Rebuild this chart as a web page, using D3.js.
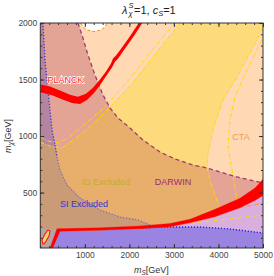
<!DOCTYPE html>
<html><head><meta charset="utf-8">
<script src="https://cdn.jsdelivr.net/npm/d3@7"></script>
<style>body{margin:0;background:#fff;} text{font-family:"Liberation Sans",Arial,sans-serif;}</style>
</head><body><svg id="c" width="274" height="276"></svg>
<script>
// ---- data (m_S [GeV], m_chi [GeV]) ----
const xTicks = [1000, 2000, 3000, 4000, 5000];
const yTicks = [500, 1000, 1500, 2000];
const xMinor = d3.range(0, 5001, 200);
const yMinor = d3.range(100, 2001, 100);

// CTA: region not reached (white bubble)
const ctaHole = [[910,2000],[960,1965],[1050,1938],[1205,1925],[1365,1938],[1450,1965],[1500,2000]];
// ID excluded region boundaries
const idLeft = [[0,947],[220,912],[490,894],[712,956],[1004,1045],[1273,1142],[1565,1257],[2088,1478],[2508,1690],[2867,1867],[3136,2000]];
const idRight = [[5000,1956],[4708,1735],[4416,1522],[4101,1319],[3877,1054],[3765,850],[3742,726],[3810,611],[3922,479],[4012,390],[4079,346]];
const idOuterLeft = [[0,992],[173,956],[397,938],[622,983],[891,1071],[1161,1160],[1452,1257],[1946,1478],[2373,1690],[2732,1867],[3024,2000]];
const idOuterRight = [[4977,1850],[4640,1584],[4371,1345],[4259,1142],[4214,903],[4304,700],[4371,549],[4416,435]];
// DARWIN reach boundary
const darwinEdge = [[846,2000],[936,1894],[1071,1717],[1228,1540],[1408,1363],[1565,1248],[1744,1160],[2014,1071],[2306,965],[2688,859],[3024,797],[3428,744],[3742,718],[4416,638],[5000,585]];
// SI excluded boundaries
const siEdge = [[60,2000],[105,1673],[150,1496],[218,1230],[263,1054],[330,921],[375,815],[442,700],[599,567],[891,452],[1340,346],[1789,284],[2193,258],[2463,213]];
const siBottom = [[2238,187],[2688,196],[3585,196],[4259,178],[5000,143]];
const lilacRegion = [[2463,196],[2912,213],[3360,249],[3922,320],[4483,408],[4820,479],[5000,549],[5000,143],[4259,178],[3585,196],[2688,196]];
const blueRegion = [[397,160],[1340,165],[2238,178],[2688,196],[3585,196],[4259,178],[5000,143],[5000,10],[218,10]];
const grayCorner = [[0,187],[397,169],[218,10],[0,10]];
// other bound lines
const orangeLine = [[3585,302],[4259,346],[5000,408]];
const yellowLow = [[2463,196],[3360,231],[4259,266],[5000,302]];
// PLANCK relic density bands
const planckUpper = [[0,1455],[218,1438],[442,1402],[667,1366],[846,1348],[1026,1375],[1183,1428],[1340,1500],[1475,1570],[1587,1642],[1632,1686],[1699,1712],[1789,1758],[2014,1882],[2210,2000],[2290,2000],[2110,1890],[1890,1768],[1744,1683],[1677,1658],[1610,1607],[1475,1528],[1340,1450],[1205,1380],[1048,1318],[891,1284],[712,1292],[487,1326],[263,1360],[0,1388]];
const planckLower = [[218,10],[375,180],[1340,188],[2238,205],[2912,227],[3360,264],[3922,352],[4483,450],[4820,540],[5000,618],[5000,475],[4820,430],[4483,366],[3922,286],[3360,233],[2912,198],[2238,180],[1340,167],[442,158],[280,10]];
const planckLoop = [[60,45],[38,81],[105,134],[173,169],[218,160],[195,116],[128,72],[83,45]];

// ---- layout ----
const L = 40.3, R = 263, T = 23, B = 248;
const x = d3.scaleLinear([0, 5000], [L, R]);
const y = d3.scaleLinear([10, 2000], [B, T]);
const svg = d3.select("#c");
const defs = svg.append("defs");
const line = d3.line().x(d => x(d[0])).y(d => y(d[1]));
const poly = pts => line(pts) + "Z";

const idPoly = idLeft.concat([[5000,2000]], idRight, [[4079,10],[0,10]]);
const darwinPoly = [[0,2000]].concat(darwinEdge, [[5000,10],[0,10]]);
const siPoly = [[0,2000]].concat(siEdge, [[2463,10],[0,10]]);

defs.append("clipPath").attr("id","plot").append("rect").attr("x",L).attr("y",T).attr("width",R-L).attr("height",B-T);
defs.append("clipPath").attr("id","dclip").append("path").attr("d",poly(darwinPoly));
defs.append("clipPath").attr("id","sclip").append("path").attr("d",poly(siPoly));

const g = svg.append("g").attr("clip-path","url(#plot)");
g.append("rect").attr("x",L).attr("y",T).attr("width",R-L).attr("height",B-T).attr("fill","#ffd9b4");
g.append("path").attr("d",poly(ctaHole)).attr("fill","#ffffff");
g.append("path").attr("d",poly(idPoly)).attr("fill","#fdda7c");
g.append("path").attr("d",poly(darwinPoly)).attr("fill","#e3a495");
g.append("g").attr("clip-path","url(#dclip)").append("path").attr("d",poly(idPoly)).attr("fill","#e8af6c");
g.append("path").attr("d",poly(siPoly)).attr("fill","#b5849f");
g.append("g").attr("clip-path","url(#sclip)").append("path").attr("d",poly(idPoly)).attr("fill","#c99b77");
g.append("path").attr("d",poly(lilacRegion)).attr("fill","#d9b0dd");
g.append("path").attr("d",poly(blueRegion)).attr("fill","#9b83e1");
g.append("path").attr("d",poly(grayCorner)).attr("fill","#b6a3a3");

function stroke(pts, color, dash, w) {
  g.append("path").attr("d", line(pts)).attr("fill","none").attr("stroke",color)
   .attr("stroke-width", w || 1).attr("stroke-dasharray", dash);
}
const dashdot = "4,1.5,1,1.5";
stroke(ctaHole, "#f08a20", "3,2", 1);
stroke(idLeft, "#ffd800", dashdot, 1);
stroke(idOuterLeft, "#ffd800", dashdot, 1);
stroke(idRight, "#ffd800", dashdot, 1);
stroke(idOuterRight, "#ffd800", dashdot, 1);
stroke(yellowLow, "#ffd800", dashdot, 1);
stroke(orangeLine, "#ff9020", dashdot, 1);
stroke(darwinEdge, "#9e3c6e", "4,3", 1.3);
stroke(siEdge.slice(0,7), "#3434e0", "1.2,1.8", 1.3);
stroke(siEdge.slice(6), "#8070a8", "1.2,1.8", 1.3);
stroke(siBottom, "#2020f0", "1.2,1.8", 1.4);

g.append("path").attr("d",poly(planckUpper)).attr("fill","#ff0000");
g.append("path").attr("d",poly(planckLower)).attr("fill","#ff0000").attr("stroke","#ff0000").attr("stroke-width",0.3);
g.append("path").attr("d",poly(planckLoop)).attr("fill","#f6d86c").attr("stroke","#ff1010").attr("stroke-width",1.1);

// labels
function lab(txt, cx, cy, color) {
  svg.append("text").attr("x",cx).attr("y",cy).attr("dy","0.35em").attr("text-anchor","middle")
    .attr("font-size",9).attr("fill",color).text(txt);
}
lab("CTA", 241, 137, "#f29a48");
lab("ID Excluded", 106, 182, "#c4ad2c");
lab("DARWIN", 173, 182, "#9c2a78");
lab("SI Excluded", 84, 204, "#3434d4");
svg.append("text").attr("x",65.5).attr("y",80).attr("dy","0.35em").attr("text-anchor","middle")
  .attr("font-size",9).attr("fill","#ff2020").attr("stroke","#ffffff").attr("stroke-width",1.5)
  .attr("paint-order","stroke").text("PLANCK");

// frame & axes
svg.append("rect").attr("x",L).attr("y",T).attr("width",R-L).attr("height",B-T)
  .attr("fill","none").attr("stroke","#333").attr("stroke-width",1);
const fmt = d3.format("d");
function ax(gen, tr, labels) {
  const a = svg.append("g").attr("transform",tr).call(gen);
  a.select(".domain").remove();
  a.selectAll("line").attr("stroke","#333");
  a.selectAll("text").attr("font-size",8.5).attr("fill","#444").attr("font-family","Liberation Sans, Arial, sans-serif");
  if (!labels) a.selectAll("text").remove();
  return a;
}
ax(d3.axisBottom(x).tickValues(xTicks).tickFormat(fmt).tickSize(-4).tickPadding(4), `translate(0,${B})`, true);
ax(d3.axisBottom(x).tickValues(xMinor).tickSize(-2), `translate(0,${B})`, false);
ax(d3.axisTop(x).tickValues(xTicks).tickSize(-4), `translate(0,${T})`, false);
ax(d3.axisTop(x).tickValues(xMinor).tickSize(-2), `translate(0,${T})`, false);
ax(d3.axisLeft(y).tickValues(yTicks).tickFormat(fmt).tickSize(-4).tickPadding(3), `translate(${L},0)`, true);
ax(d3.axisLeft(y).tickValues(yMinor).tickSize(-2), `translate(${L},0)`, false);
ax(d3.axisRight(y).tickValues(yTicks).tickSize(-4), `translate(${R},0)`, false);
ax(d3.axisRight(y).tickValues(yMinor).tickSize(-2), `translate(${R},0)`, false);

// title
const t = svg.append("text").attr("fill","#222").attr("font-size",11);
t.append("tspan").attr("x",122).attr("y",13.5).attr("font-style","italic").text("λ");
t.append("tspan").attr("x",128.5).attr("y",8.3).attr("font-size",7.5).attr("font-style","italic").text("S");
t.append("tspan").attr("x",128.5).attr("y",15.8).attr("font-size",7.5).attr("font-style","italic").text("χ");
t.append("tspan").attr("x",134).attr("y",13.5).text("=1, ");
t.append("tspan").attr("font-style","italic").text("c");
t.append("tspan").attr("font-size",7.5).attr("font-style","italic").attr("dy",2.7).text("S");
t.append("tspan").attr("dy",-2.7).text("=1");

// axis titles
const xl = svg.append("text").attr("x",134).attr("y",273).attr("font-size",9).attr("fill","#333");
xl.append("tspan").attr("font-style","italic").text("m");
xl.append("tspan").attr("font-size",6.5).attr("font-style","italic").attr("dy",2).text("S");
xl.append("tspan").attr("dy",-2).text("[GeV]");
const yl = svg.append("text").attr("transform","translate(10.5,153) rotate(-90)").attr("font-size",9).attr("fill","#333");
yl.append("tspan").attr("font-style","italic").text("m");
yl.append("tspan").attr("font-size",6.5).attr("font-style","italic").attr("dy",2).text("χ");
yl.append("tspan").attr("dy",-2).text("[GeV]");
</script></body></html>
